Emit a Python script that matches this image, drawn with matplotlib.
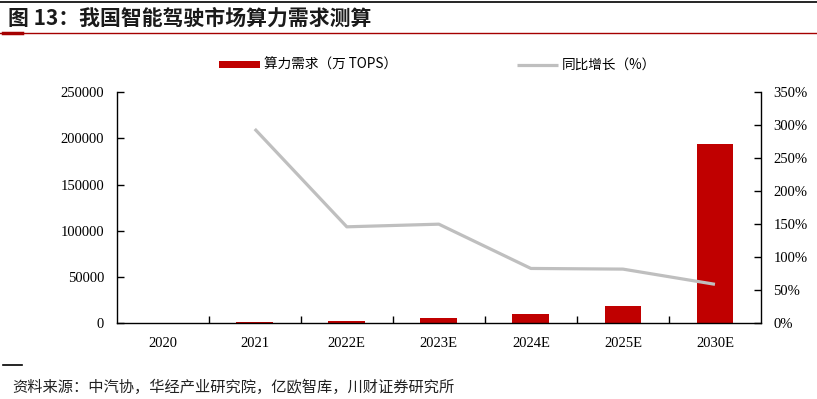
import matplotlib
matplotlib.use("Agg")
import matplotlib.pyplot as plt
from matplotlib.lines import Line2D
from matplotlib.ticker import FuncFormatter, FixedLocator

CJK = ["Noto Sans CJK SC", "DejaVu Sans"]
SERIF = ["Liberation Serif", "DejaVu Serif"]

# Data
years = ["2020", "2021", "2022E", "2023E", "2024E", "2025E", "2030E"]
demand = [260, 1020, 2500, 5700, 10100, 18500, 194000]      # 万 TOPS
growth = [None, 2.94, 1.46, 1.50, 0.83, 0.82, 0.59]          # 同比增长

y_ticks = [0, 50000, 100000, 150000, 200000, 250000]
pct_ticks = [0, 0.5, 1.0, 1.5, 2.0, 2.5, 3.0, 3.5]

BAR = "#C00000"
LINE = "#BFBFBF"
TITLE_RED = "#A50000"

W, H = 817, 399
fig = plt.figure(figsize=(W / 100, H / 100), dpi=100)
fig.patch.set_facecolor("white")

ax = fig.add_axes([116.7 / W, 1 - 323.3 / H, (761 - 116.7) / W, (323.3 - 92) / H])
ax2 = ax.twinx()

x = list(range(len(years)))
bars = ax.bar(x, demand, width=0.4, color=BAR, zorder=2, label="算力需求（万 TOPS）")

gx = [xi for xi, g in zip(x, growth) if g is not None]
gy = [g for g in growth if g is not None]
line, = ax2.plot(gx, gy, color=LINE, lw=2.3, solid_capstyle="butt",
                 label="同比增长（%）")

ax.set_xlim(-0.5, len(years) - 0.5)
ax.set_ylim(0, 250000)
ax2.set_ylim(0, 3.5)

# category labels at centers, tick marks at boundaries
ax.set_xticks(x)
ax.set_xticklabels(years, family=SERIF, fontsize=10.5)
ax.xaxis.set_minor_locator(FixedLocator([i + 0.5 for i in range(len(years) - 1)]))
ax.tick_params(axis="x", which="major", length=0, pad=10)
ax.tick_params(axis="x", which="minor", direction="in", length=5, width=1)

ax.set_yticks(y_ticks)
ax.set_yticklabels([str(v) for v in y_ticks], family=SERIF, fontsize=10.5)
ax.tick_params(axis="y", direction="in", length=5, width=1, pad=9)

ax2.set_yticks(pct_ticks)
ax2.yaxis.set_major_formatter(FuncFormatter(lambda v, _: f"{v * 100:.0f}%"))
ax2.tick_params(axis="y", direction="in", length=5, width=1, pad=9, labelsize=10.5)
for lab in ax2.get_yticklabels():
    lab.set_family(SERIF)

for a in (ax, ax2):
    a.spines["top"].set_visible(False)
    for s in ("left", "right", "bottom"):
        a.spines[s].set_linewidth(1.0)
        a.spines[s].set_color("black")
ax2.spines["left"].set_visible(False)
ax2.spines["bottom"].set_visible(False)
ax.spines["right"].set_visible(False)

leg = fig.legend(handles=[bars, line], loc="center left",
                 bbox_to_anchor=(219 / W, 1 - 65 / H), ncol=2, frameon=False,
                 prop={"family": CJK, "size": 9.8}, handlelength=3.0,
                 handleheight=0.4, handletextpad=0.3, columnspacing=8.8,
                 borderpad=0, borderaxespad=0)

# header and footer decorations
fig.add_artist(Line2D([0, 1], [1 - 2 / H] * 2, color="black", lw=1.2))
fig.add_artist(Line2D([0, 1], [1 - 33 / H] * 2, color=TITLE_RED, lw=1.0))
fig.add_artist(Line2D([3 / W, 22 / W], [1 - 33 / H] * 2, color=TITLE_RED, lw=2.5))
fig.add_artist(Line2D([3 / W, 22 / W], [1 - 365 / H] * 2, color="black", lw=1.2))

fig.text(8 / W, 1 - 18 / H, "图 13：我国智能驾驶市场算力需求测算",
         family=CJK, fontsize=15, fontweight="bold", color="#1a1a1a",
         ha="left", va="center")
fig.text(12 / W, 1 - 387 / H, "资料来源：中汽协，华经产业研究院，亿欧智库，川财证券研究所",
         family=CJK, fontsize=11, color="#222222", ha="left", va="center",
         style="italic")

fig.savefig("out.png", dpi=100, facecolor="white")
